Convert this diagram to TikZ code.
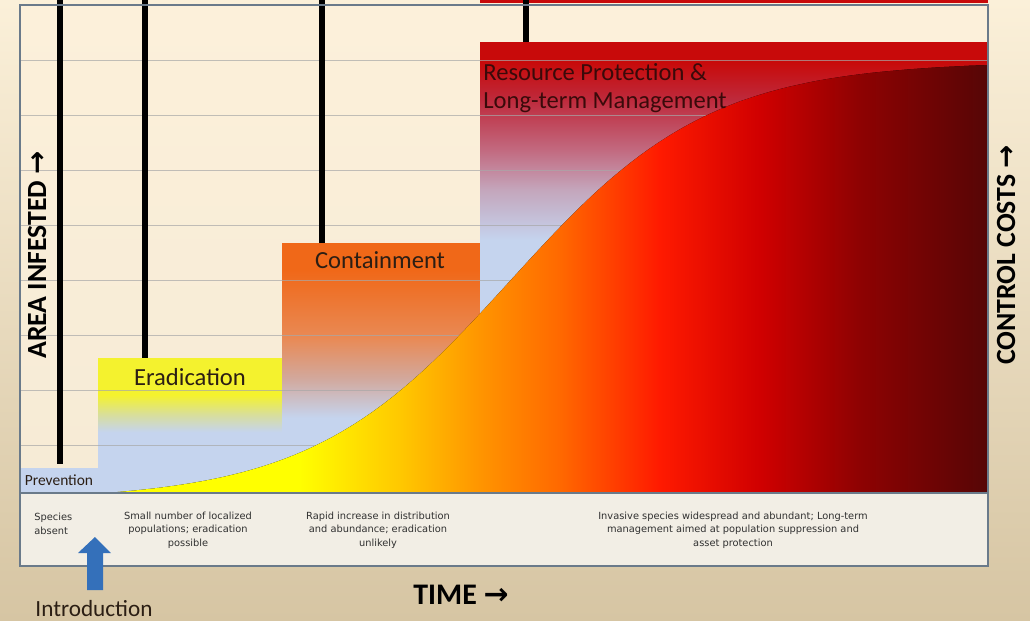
\documentclass[tikz,border=0pt]{standalone}
\usepackage{fontspec}
\setmainfont{Carlito}
\newfontfamily\notefont{DejaVu Sans}
\usetikzlibrary{positioning}

\definecolor{paleblue}{HTML}{C5D4EE}
\definecolor{eradtop}{HTML}{F4F22E}
\definecolor{eradmid}{HTML}{D8DE9C}
\definecolor{conttop}{HTML}{F06818}
\definecolor{contmid}{HTML}{E98A55}
\definecolor{contlow}{HTML}{D2A89C}
\definecolor{restop}{HTML}{C80A0A}
\definecolor{resmid}{HTML}{BE2A3C}
\definecolor{reslow}{HTML}{C26A80}
\definecolor{resfade}{HTML}{C4A6BC}
\definecolor{curveA}{HTML}{FFFF00}
\definecolor{curveB}{HTML}{FFC800}
\definecolor{curveC}{HTML}{FF9500}
\definecolor{curveD}{HTML}{FF6800}
\definecolor{curveE}{HTML}{FF1A00}
\definecolor{curveF}{HTML}{D00000}
\definecolor{curveG}{HTML}{8E0202}
\definecolor{curveH}{HTML}{560606}
\definecolor{bgtop}{HTML}{FBF0D9}
\definecolor{bgbottom}{HTML}{D6C5A3}
\definecolor{paneltop}{HTML}{FCF0DA}
\definecolor{panelbottom}{HTML}{F5EAD5}
\definecolor{titleink}{HTML}{2B1E14}
\definecolor{resink}{HTML}{3A0A0A}
\definecolor{noteink}{HTML}{303030}
\definecolor{gridgray}{HTML}{A8A8A8}
\definecolor{framegray}{HTML}{6A7A8A}
\definecolor{bandfill}{HTML}{F2EEE5}
\definecolor{introblue}{HTML}{3470BA}

\pgfdeclareverticalshading{eradshade}{100bp}{color(0bp)=(paleblue); color(47.6bp)=(paleblue);
  color(54bp)=(eradmid); color(61.3bp)=(eradtop); color(100bp)=(eradtop)}
\pgfdeclareverticalshading{contshade}{100bp}{color(0bp)=(paleblue); color(40bp)=(paleblue);
  color(48bp)=(contlow); color(56bp)=(contmid); color(69.6bp)=(conttop); color(100bp)=(conttop)}
\pgfdeclareverticalshading{resshade}{100bp}{color(0bp)=(paleblue); color(53bp)=(paleblue);
  color(58.6bp)=(resfade); color(63bp)=(reslow); color(68.6bp)=(resmid); color(72.8bp)=(restop);
  color(100bp)=(restop)}
\pgfdeclarehorizontalshading{curveshade}{100bp}{color(0bp)=(curveA); color(36bp)=(curveA);
  color(41.7bp)=(curveB); color(46.2bp)=(curveC); color(50.8bp)=(curveD); color(56.4bp)=(curveE);
  color(62.1bp)=(curveF); color(67.7bp)=(curveG); color(75bp)=(curveH); color(100bp)=(curveH)}

\newcommand{\notesize}{\notefont\fontsize{5.6pt}{7.7pt}\selectfont}
\newcommand{\arr}{{\notefont\bfseries →}}

\begin{document}
\begin{tikzpicture}[
		x=0.02cm, y=-0.02cm,
		stage/.style={rectangle, inner sep=0pt, outer sep=0pt, draw=none},
		boxtitle/.style={font=\fontsize{14pt}{16pt}\selectfont, text=titleink},
		note/.style={font=\notesize, text=noteink, align=center},
		axislabel/.style={font=\bfseries\fontsize{15.8pt}{18pt}\selectfont, text=black},
		bar/.style={line width=3.9pt, black},
		gridline/.style={draw=gridgray, line width=0.5pt}
		]
		\useasboundingbox (0,0) rectangle (1030,621);
		\shade[top color=bgtop, bottom color=bgbottom] (0,0) rectangle (1030,621);
		\fill[top color=paneltop, bottom color=panelbottom] (20,5) rectangle (988,566);
		\fill[restop] (480,0) rectangle (988,3);

		\node[stage, fill=paleblue, minimum width=1.56cm, minimum height=0.5cm] (prev) at (59,480.5) {};
		\node[stage, shading=eradshade, minimum width=3.68cm, minimum height=2.7cm] (erad) at (190,425.5) {};
		\node[stage, shading=contshade, minimum width=3.96cm, minimum height=5cm] (cont) at (381,368) {};
		\node[stage, shading=resshade, minimum width=10.16cm, minimum height=9.02cm] (res) at (734,267.5) {};

		\foreach \y in {60,115,...,445}
			\draw[gridline, opacity=0.7] (20,\y) -- (988,\y);

		% logistic growth of the infested area
		\fill[shading=curveshade] plot[domain=105:988, samples=90]
			(\x, {493 - 428*(1/(1+exp(-(\x-510)/100)) - 0.0171)/0.9746})
			-- (988,493) -- cycle;

		\coordinate (b1) at (60,0);
		\coordinate (b2) at (145,0);
		\coordinate (b3) at (322,0);
		\coordinate (b4) at (526,0);
		\draw[bar] (b1) -- ([yshift=2pt]b1 |- prev.north);
		\draw[bar] (b2) -- (b2 |- erad.north);
		\draw[bar] (b3) -- (b3 |- cont.north);
		\draw[bar] (b4) -- (b4 |- res.north);

		\draw[framegray, line width=1.1pt, fill=bandfill] (20,493) rectangle (988,566);
		\draw[framegray, line width=0.6pt] (20,5) rectangle (988,566);

		\node[font=\fontsize{8.8pt}{10pt}\selectfont, text=titleink] (prevlabel) at (prev) {Prevention};
		\node[boxtitle] (eradlabel) at (190,377) {Eradication};
		\node[boxtitle] (contlabel) at (380,260) {Containment};
		\node[boxtitle, text=resink, align=left, anchor=west, inner sep=0pt] (reslabel) at (483,88)
			{Resource Protection \&\\Long-term Management};

		\node[note, align=left, anchor=west, inner sep=0pt] (absent) at (34,524) {Species\\absent};
		\node[note] (smallpop) at (188,530) {Small number of localized\\populations; eradication\\possible};
		\node[note] (rapid) at (378,530) {Rapid increase in distribution\\and abundance; eradication\\unlikely};
		\node[note] (widespread) at (733,530) {Invasive species widespread and abundant; Long-term\\
			management aimed at population suppression and\\asset protection};

		\node[axislabel, rotate=90] (area) at (37,255) {AREA INFESTED \arr};
		\node[axislabel, rotate=90] (costs) at (1006,255) {CONTROL COSTS \arr};
		\node[axislabel, font=\bfseries\fontsize{17pt}{20pt}\selectfont] (time) at (461,595) {TIME \arr};

		\fill[introblue] (87,590) -- (87,553) -- (78,553) -- (95,537) -- (111,553) -- (103,553)
			-- (103,590) -- cycle;
		\node[font=\fontsize{13.2pt}{15pt}\selectfont, text=titleink] (intro) at (94,609) {Introduction};
	\end{tikzpicture}
\end{document}
